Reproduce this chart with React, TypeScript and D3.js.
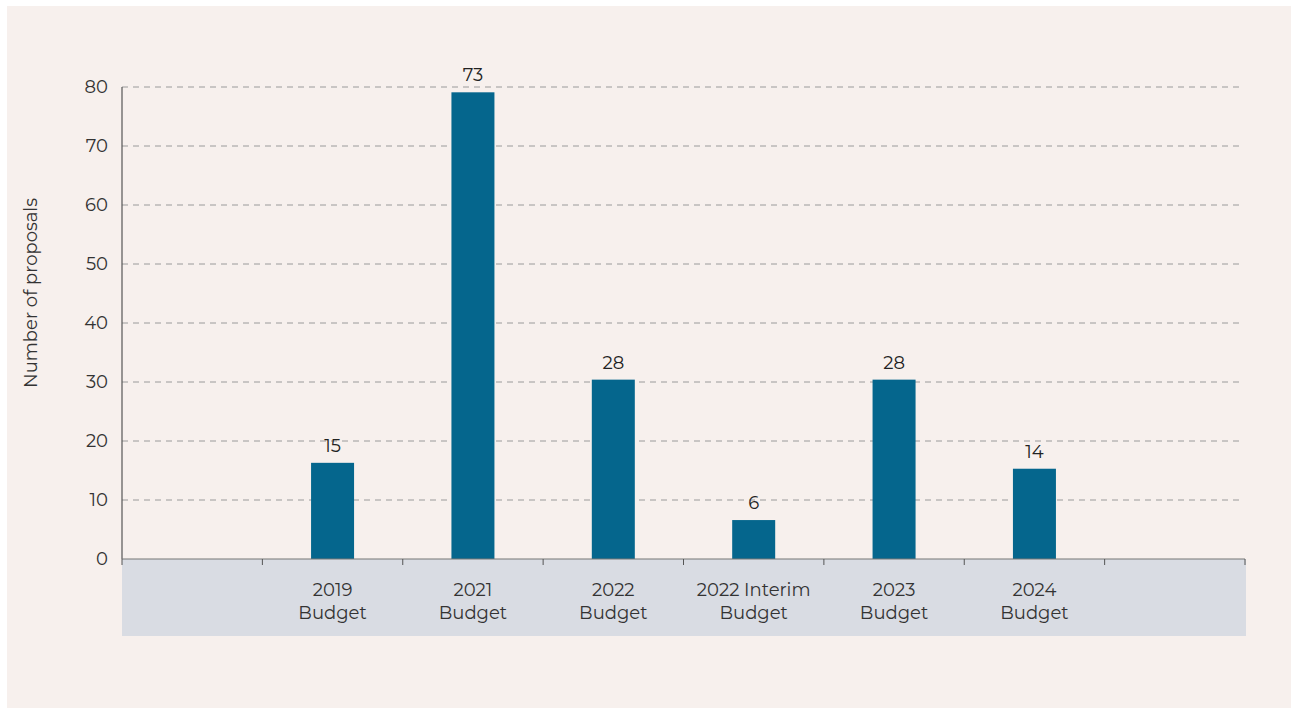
import * as d3 from "d3";

const categories = ["", "2019 Budget", "2021 Budget", "2022 Budget", "2022 Interim Budget", "2023 Budget", "2024 Budget", " "];
const categoryLines = [[], ["2019", "Budget"], ["2021", "Budget"], ["2022", "Budget"], ["2022 Interim", "Budget"], ["2023", "Budget"], ["2024", "Budget"], []];
// bar heights as drawn in the picture, and the labels printed above them
const barValues = [null, 16.3, 79.1, 30.4, 6.6, 30.4, 15.3, null];
const barLabels = ["", "15", "73", "28", "6", "28", "14", ""];
const yTicks = [0, 10, 20, 30, 40, 50, 60, 70, 80];

const W = 1291;
const H = 708;
const left = 122;
const right = 1245;
const top = 87;
const bottom = 559;
const font = "Montserrat, 'Noto Sans', sans-serif";

export default function App() {
  const x = d3.scaleBand<string>().domain(categories).range([left, right]).padding(0);
  const y = d3.scaleLinear().domain([0, 80]).range([bottom, top]);
  const bw = 43;

  return (
    <svg width={W} height={H} style={{ position: "absolute", left: 0, top: 0 }}>
      <rect x={7} y={6} width={W - 7} height={H - 6} fill="#f7f0ed" />
      <rect x={left} y={bottom} width={right - left + 1} height={77} fill="#d9dce3" />
      {yTicks.filter((t) => t > 0).map((t) => (
        <line key={t} x1={left} x2={1240} y1={y(t)} y2={y(t)} stroke="#9a9a9a" strokeDasharray="6,5" strokeWidth={1} />
      ))}
      {yTicks.map((t) => (
        <text key={t} x={108} y={y(t)} dy="0.35em" textAnchor="end" fontFamily={font} fontSize={18} fill="#333">
          {t}
        </text>
      ))}
      <line x1={left} x2={left} y1={top} y2={bottom} stroke="#555" strokeWidth={1.2} />
      {categories.map((c, i) => {
        const v = barValues[i];
        const cx = (x(c) ?? 0) + x.bandwidth() / 2;
        return (
          <g key={i}>
            {v !== null && (
              <>
                <rect x={cx - bw / 2} y={y(v)} width={bw} height={bottom - y(v)} fill="#05668d" />
                <text x={cx} y={y(v) - 11} textAnchor="middle" fontFamily={font} fontSize={18} fill="#222">
                  {barLabels[i]}
                </text>
              </>
            )}
            {categoryLines[i].map((ln, j) => (
              <text key={j} x={cx} y={596 + j * 23} textAnchor="middle" fontFamily={font} fontSize={18} fill="#333">
                {ln}
              </text>
            ))}
          </g>
        );
      })}
      <line x1={left} x2={right} y1={bottom} y2={bottom} stroke="#777" strokeWidth={1.2} />
      {categories.map((c, i) => (
        <line key={i} x1={x(c) ?? 0} x2={x(c) ?? 0} y1={bottom} y2={bottom + 6} stroke="#555" strokeWidth={1} />
      ))}
      <line x1={right} x2={right} y1={bottom} y2={bottom + 6} stroke="#555" strokeWidth={1} />
      <text transform="translate(37,293) rotate(-90)" textAnchor="middle" fontFamily={font} fontSize={18} fill="#333">
        Number of proposals
      </text>
    </svg>
  );
}
